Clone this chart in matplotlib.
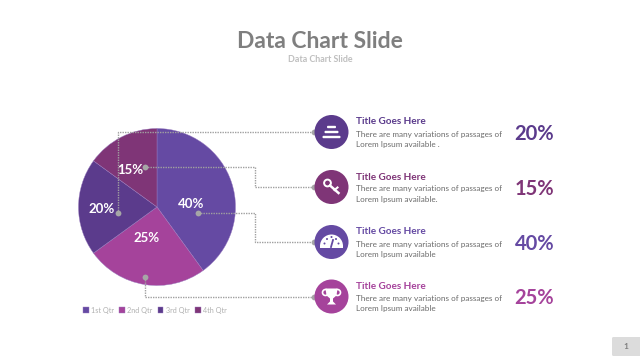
import matplotlib
matplotlib.use('Agg')
import matplotlib.pyplot as plt
from matplotlib.patches import Circle, Rectangle, Wedge, Polygon, FancyBboxPatch

plt.rcParams['font.family'] = ['Lato', 'DejaVu Sans']

quarters = ['1st Qtr', '2nd Qtr', '3rd Qtr', '4th Qtr']
shares = [40, 25, 20, 15]
slice_colors = ['#654aa3', '#a5439b', '#5b3b8c', '#7f3577']

row_shares = [20, 15, 40, 25]
row_colors = ['#5b3b8c', '#7f3577', '#654aa3', '#a5439b']
row_titles = ['Title Goes Here'] * 4
row_lines = ['Lorem Ipsum available .', 'Lorem Ipsum available.',
             'Lorem Ipsum available', 'Lorem Ipsum available']
row_y = [132, 187, 242, 296.5]

fig = plt.figure(figsize=(6.4, 3.6), dpi=100)

# overlay in pixel coordinates for the slide furniture
ax = fig.add_axes([0, 0, 1, 1], zorder=2)
ax.set_xlim(0, 640)
ax.set_ylim(360, 0)
ax.axis('off')
ax.patch.set_alpha(0)

# pie
pie_ax = fig.add_axes([78.5 / 640, (360 - 285.5) / 360, 157 / 640, 157 / 360], zorder=1)
wedges, _ = pie_ax.pie(shares, colors=slice_colors, startangle=90, counterclock=False,
                       radius=1.0, wedgeprops=dict(edgecolor='#9a7cc0', linewidth=0.3))
pie_ax.set_xlim(-1, 1)
pie_ax.set_ylim(-1, 1)

label_pos = [(191, 204), (147, 238), (102, 209), (130, 170.5)]
for val, (x, y) in zip(shares, label_pos):
    ax.text(x, y, f'{val}%', color='white', fontsize=9.5, fontweight='bold',
            ha='center', va='center')

# titles
ax.text(320, 41, 'Data Chart Slide', color='#7f7f7f', fontsize=16.5, fontweight='bold',
        ha='center', va='center')
ax.text(320, 59, 'Data Chart Slide', color='#bfbfbf', fontsize=6.4, fontweight='bold',
        ha='center', va='center')

# connectors
paths = [
    [(118, 213), (118, 132), (314, 132)],
    [(145, 167), (255, 167), (255, 187), (314, 187)],
    [(198, 213), (255, 213), (255, 242), (314, 242)],
    [(145, 277), (145, 297), (314, 297)],
]
for p in paths:
    ax.plot([q[0] for q in p], [q[1] for q in p], color='#a0a0a0', lw=1.0,
            ls=(0, (1, 0.8)), zorder=3)
    ax.plot([p[0][0], p[-1][0]], [p[0][1], p[-1][1]], ls='none', marker='o',
            ms=4.2, mfc='#a6a6a6', mec='none', zorder=4)

# rows
for i in range(4):
    y = row_y[i]
    ax.add_patch(Circle((331.5, y), 17, fc=row_colors[i], ec='none', zorder=5))
    ax.text(356, y - 10, row_titles[i], color=row_colors[i], fontsize=7.2, fontweight='bold',
            ha='left', va='center')
    ax.text(356, y + 2, 'There are many variations of passages of', color='#6b6b6b',
            fontsize=5.9, ha='left', va='center')
    ax.text(356, y + 12.5, row_lines[i], color='#6b6b6b', fontsize=5.9, ha='left', va='center')
    ax.text(534.5, y + 2, f'{row_shares[i]}%', color=row_colors[i], fontsize=14.5,
            fontweight='bold', ha='center', va='center')

# icon 1, stacked bars
cx, cy = 331.5, row_y[0]
for w, dy in [(9, -5), (14, 0), (18, 5)]:
    ax.add_patch(FancyBboxPatch((cx - w / 2, cy + dy - 1.2), w, 2.4, boxstyle='round,pad=0,rounding_size=1',
                                fc='white', ec='none', zorder=6))

# icon 2, key
cx, cy = 331.5, row_y[1]
ax.add_patch(Circle((cx - 4, cy - 4), 3.4, fc='none', ec='white', lw=1.4, zorder=6))
ax.plot([cx - 1.5, cx + 7], [cy - 1.5, cy + 6], color='white', lw=1.8, zorder=6)
ax.plot([cx + 3, cx + 6], [cy + 3, cy + 0.5], color='white', lw=1.5, zorder=6)

# icon 3, gauge
cx, cy = 331.5, row_y[2]
ax.add_patch(Wedge((cx, cy + 4), 11.5, 180, 360, fc='white', ec='none', zorder=6))
ax.add_patch(Rectangle((cx - 11.5, cy + 3), 23, 2.5, fc='white', ec='none', zorder=6))
for dx, dy in [(-7, 1.5), (-4.5, -3), (0, -5), (4.5, -3), (7, 1.5)]:
    ax.add_patch(Circle((cx + dx, cy + dy), 1, fc=row_colors[2], ec='none', zorder=7))
ax.plot([cx - 0.5, cx + 1.5], [cy + 5, cy - 2], color=row_colors[2], lw=1.3, zorder=7)

# icon 4, trophy
cx, cy = 331.5, row_y[3]
ax.add_patch(Circle((cx - 6, cy - 4), 3, fc='none', ec='white', lw=1.2, zorder=6))
ax.add_patch(Circle((cx + 6, cy - 4), 3, fc='none', ec='white', lw=1.2, zorder=6))
ax.add_patch(Polygon([(cx - 6, cy - 8), (cx + 6, cy - 8), (cx + 5, cy - 1), (cx + 1.5, cy + 2),
                      (cx + 1.5, cy + 5), (cx + 4.5, cy + 8), (cx - 4.5, cy + 8),
                      (cx - 1.5, cy + 5), (cx - 1.5, cy + 2), (cx - 5, cy - 1)],
                     closed=True, fc='white', ec='none', zorder=7))

# legend
leg = ax.legend(wedges, quarters, ncol=4, loc='center', bbox_to_anchor=(155 / 640, 1 - 310 / 360),
                frameon=False, fontsize=5.2, labelcolor='#b0b0b0', handlelength=0.75, handleheight=0.75,
                handletextpad=0.35, columnspacing=0.75, borderpad=0)

# page badge
ax.add_patch(FancyBboxPatch((612, 337), 30, 19, boxstyle='round,pad=0,rounding_size=1.5',
                            fc='#dcdcdc', ec='none', zorder=5))
ax.text(625.5, 346.5, '1', color='#7f7f7f', fontsize=6, fontweight='bold', ha='center', va='center', zorder=6)

fig.savefig('out.png', dpi=100, facecolor='white')
